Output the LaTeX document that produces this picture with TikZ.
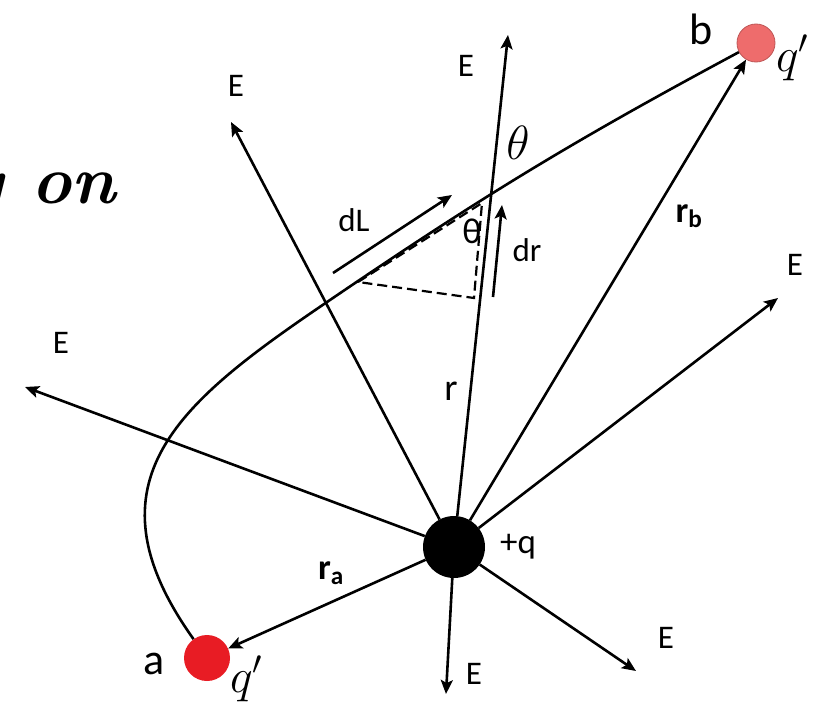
\RequirePackage{fix-cm}
\documentclass[tikz,border=0pt]{standalone}
\usepackage{fontspec}
\newfontfamily\calib{Carlito}
\usetikzlibrary{arrows.meta}
\definecolor{pointa}{RGB}{232,28,36}
\definecolor{pointb}{RGB}{238,108,108}

\begin{document}
\begin{tikzpicture}[x=1pt,y=-1pt,
	vec/.style={line width=2.6pt,-{Stealth[length=14pt,width=12pt,inset=3pt]}},
	lab/.style={font=\calib\fontsize{33}{33}\selectfont,inner sep=0pt},
	biglab/.style={font=\calib\fontsize{44}{44}\selectfont,inner sep=0pt},
	mathlab/.style={font=\fontsize{48}{48}\selectfont,inner sep=0pt},
	charge/.style={circle,inner sep=0pt}]
	\useasboundingbox (0,0) rectangle (815,704);
	% title remains
	\node[font=\bfseries\itshape\fontsize{68}{68}\selectfont,anchor=base east,inner sep=0pt] (title) at (116,203) {g on};
	% charges
	\node[charge,fill=black,minimum size=62pt] (Q) at (454,547) {};
	\node[charge,fill=pointa,minimum size=46pt] (A) at (207,658) {};
	\node[charge,fill=pointb,draw=pointb!80!black,line width=0.8pt,minimum size=38pt] (B) at (756,43) {};
	\node[lab,font=\calib\fontsize{35}{35}\selectfont] (plusq) at (518,547) {+q};
	\node[biglab] (la) at (154,664) {a};
	\node[biglab] (lb) at (701,29) {b};
	\node[mathlab,anchor=base west] (qa) at (230,692) {$q'$};
	\node[mathlab,anchor=base west] (qb) at (776,71) {$q'$};
	% field lines
	\coordinate (E1) at (508,35);
	\coordinate (E2) at (231,122);
	\coordinate (E3) at (25,387);
	\coordinate (E4) at (778,298);
	\coordinate (E5) at (636,671);
	\coordinate (E6) at (446,694);
	\draw[vec] (Q) -- (E1);
	\draw[vec] (Q) -- (E2);
	\draw[vec] (Q) -- (E3);
	\draw[vec] (Q) -- (E4);
	\draw[vec] (Q) -- (E5);
	\draw[vec] (Q) -- (E6);
	\node[lab] (lE1) at (466,66) {E};
	\node[lab] (lE2) at (236,86) {E};
	\node[lab] (lE3) at (61,343) {E};
	\node[lab] (lE4) at (795,265) {E};
	\node[lab] (lE5) at (666,638) {E};
	\node[lab] (lE6) at (474,674) {E};
	% position vectors
	\draw[vec] (Q) -- (A);
	\draw[vec] (Q) -- (B);
	\node[lab,font=\calib\bfseries\fontsize{36}{36}\selectfont] (lra) at (331,573) {r\textsubscript{a}};
	\node[lab,font=\calib\bfseries\fontsize{36}{36}\selectfont] (lrb) at (689,216) {r\textsubscript{b}};
	\node[lab,font=\calib\fontsize{38}{38}\selectfont] (lr) at (451,391) {r};
	% path from a to b
	\coordinate (P) at (330,300);
	\draw[line width=2.6pt] (A) .. controls (80,480) and (181,401) .. (P) to[bend left=3] (B);
	% small triangle
	\coordinate (T1) at (358,282);
	\coordinate (T2) at (482,203);
	\coordinate (T3) at (474,298);
	\draw[line width=2.2pt,dash pattern=on 10pt off 5pt] (T1) -- (T2) -- (T3) -- cycle;
	\coordinate (dL1) at (333,273);
	\coordinate (dL2) at (452,195);
	\coordinate (dr1) at (493,297);
	\coordinate (dr2) at (502,205);
	\draw[vec] (dL1) -- (dL2);
	\draw[vec] (dr1) -- (dr2);
	\node[lab] (ldL) at (354,220) {dL};
	\node[lab] (ldr) at (527,250) {dr};
	\node[lab,font=\calib\fontsize{36}{36}\selectfont] (th1) at (472,231) {θ};
	\node[mathlab] (th2) at (518,143) {$\theta$};
\end{tikzpicture}
\end{document}
